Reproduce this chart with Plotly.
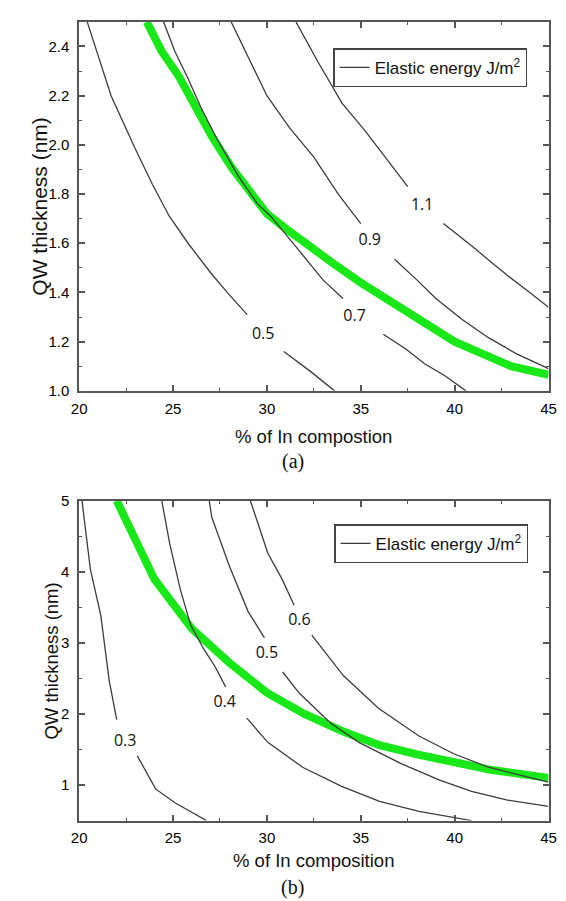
import plotly.graph_objects as go

# ---------------- Panel (a) data ----------------
a_c05_x = [20.43, 21.7, 22.95, 23.9, 24.8, 25.8, 27.0, 28.0, 28.95, None, 30.9, 32.3, 33.6]
a_c05_y = [2.5, 2.2, 1.99, 1.84, 1.71, 1.6, 1.48, 1.39, 1.31, None, 1.16, 1.08, 1.0]
a_c07_x = [24.5, 25.1, 25.8, 26.5, 27.3, 28.5, 29.5, 30.2, 31.5, 33.0, 34.05, None, 36.2, 37.4, 38.4, 39.5, 40.6]
a_c07_y = [2.5, 2.38, 2.27, 2.15, 2.03, 1.87, 1.76, 1.71, 1.59, 1.45, 1.375, None, 1.23, 1.17, 1.11, 1.06, 1.0]
a_c09_x = [28.1, 29.0, 30.0, 31.2, 32.5, 33.8, 35.0, None, 36.8, 38.0, 39.0, 40.4, 41.8, 43.3, 45.0]
a_c09_y = [2.5, 2.36, 2.2, 2.07, 1.95, 1.8, 1.68, None, 1.535, 1.45, 1.375, 1.29, 1.216, 1.15, 1.09]
a_c11_x = [31.55, 32.7, 34.0, 35.2, 36.2, 37.5, None, 39.4, 40.9, 42.0, 42.8, 44.0, 45.0]
a_c11_y = [2.5, 2.34, 2.17, 2.06, 1.96, 1.83, None, 1.68, 1.59, 1.52, 1.47, 1.40, 1.34]
a_green_x = [23.6, 24.4, 25.3, 26.2, 27.1, 28.1, 29.2, 30.0, 31.0, 32.0, 33.5, 35.0, 36.5, 38.4, 40.0, 41.5, 43.0, 45.0]
a_green_y = [2.5, 2.38, 2.28, 2.15, 2.03, 1.91, 1.80, 1.72, 1.66, 1.60, 1.52, 1.44, 1.37, 1.28, 1.20, 1.15, 1.10, 1.065]
a_label_text = ["0.5", "0.7", "0.9", "1.1"]
a_label_x = [29.8, 34.67, 35.48, 38.27]
a_label_y = [1.227, 1.30, 1.61, 1.75]

# ---------------- Panel (b) data ----------------
b_c03_x = [20.15, 20.6, 21.15, 21.6, 22.0, None, 23.1, 24.07, 25.1, 26.78]
b_c03_y = [5.0, 4.03, 3.39, 2.47, 1.92, None, 1.41, 0.945, 0.75, 0.50]
b_c04_x = [24.4, 24.82, 25.38, 25.94, 26.6, 27.25, 27.8, None, 28.93, 30.05, 31.9, 33.98, 36.0, 38.1, 40.9]
b_c04_y = [5.0, 4.4, 3.76, 3.25, 2.93, 2.66, 2.38, None, 1.94, 1.6, 1.25, 0.98, 0.77, 0.63, 0.50]
b_c05_x = [26.93, 27.06, 28.0, 29.0, 29.87, None, 30.84, 31.73, 33.4, 34.9, 37.15, 39.2, 40.9, 42.76, 45.0]
b_c05_y = [5.0, 4.77, 4.08, 3.44, 3.07, None, 2.59, 2.29, 1.87, 1.6, 1.30, 1.07, 0.91, 0.79, 0.70]
b_c06_x = [29.12, 30.05, 30.8, 31.45, None, 32.39, 34.07, 35.94, 38.1, 39.95, 41.8, 45.0]
b_c06_y = [5.0, 4.26, 3.9, 3.53, None, 3.11, 2.54, 2.08, 1.69, 1.44, 1.25, 1.04]
b_green_x = [22.0, 24.0, 26.0, 28.0, 30.0, 32.0, 34.0, 36.0, 38.0, 40.0, 42.0, 45.0]
b_green_y = [5.0, 3.9, 3.2, 2.72, 2.3, 2.0, 1.76, 1.56, 1.43, 1.32, 1.21, 1.10]
b_label_text = ["0.3", "0.4", "0.5", "0.6"]
b_label_x = [22.45, 27.75, 30.0, 31.73]
b_label_y = [1.607, 2.15, 2.84, 3.31]

legend_name = "Elastic energy J/m<sup>2</sup>"

W, H = 566, 901
SANS = "Liberation Sans, Arial, sans-serif"
LINE_COL = "#3c3c3c"
GREEN = "rgb(24,232,24)"
AX_COL = "#555555"

fig = go.Figure()

# green curves (drawn first)
fig.add_trace(go.Scatter(x=a_green_x, y=a_green_y, mode="lines", line=dict(color=GREEN, width=8),
                         showlegend=False, xaxis="x", yaxis="y"))
fig.add_trace(go.Scatter(x=b_green_x, y=b_green_y, mode="lines", line=dict(color=GREEN, width=8),
                         showlegend=False, xaxis="x2", yaxis="y2"))

a_curves = [(a_c05_x, a_c05_y), (a_c07_x, a_c07_y), (a_c09_x, a_c09_y), (a_c11_x, a_c11_y)]
for i, (cx, cy) in enumerate(a_curves):
    fig.add_trace(go.Scatter(x=cx, y=cy, mode="lines", line=dict(color=LINE_COL, width=1.3),
                             name=legend_name, showlegend=(i == 0), legend="legend",
                             xaxis="x", yaxis="y"))
b_curves = [(b_c03_x, b_c03_y), (b_c04_x, b_c04_y), (b_c05_x, b_c05_y), (b_c06_x, b_c06_y)]
for i, (cx, cy) in enumerate(b_curves):
    fig.add_trace(go.Scatter(x=cx, y=cy, mode="lines", line=dict(color=LINE_COL, width=1.3),
                             name=legend_name, showlegend=(i == 0), legend="legend2",
                             xaxis="x2", yaxis="y2"))

LABEL_FONT = dict(family="Open Sans, Noto Sans, sans-serif", size=16, color="#111111")
fig.add_trace(go.Scatter(x=a_label_x, y=a_label_y, text=a_label_text, mode="text",
                         textfont=LABEL_FONT, showlegend=False, xaxis="x", yaxis="y"))
fig.add_trace(go.Scatter(x=b_label_x, y=b_label_y, text=b_label_text, mode="text",
                         textfont=LABEL_FONT, showlegend=False, xaxis="x2", yaxis="y2"))

def px_x(p):
    return p / W

def px_y(p):
    return 1 - p / H

axis_common = dict(showline=True, linecolor=AX_COL, linewidth=1.8, mirror="ticks",
                   ticks="inside", ticklen=6, tickwidth=1.5, tickcolor=AX_COL,
                   showgrid=False, zeroline=False,
                   tickfont=dict(family=SANS, size=15, color="#000000"))

fig.update_layout(
    width=W, height=H,
    margin=dict(l=0, r=0, t=0, b=0),
    paper_bgcolor="white", plot_bgcolor="white",
    xaxis=dict(domain=[px_x(65), px_x(548)], range=[20, 45], dtick=5, tick0=20,
               minor=dict(ticks="inside", ticklen=3, dtick=2.5, tickcolor=AX_COL, tickwidth=1.2),
               anchor="y", ticklabelstandoff=3, **axis_common),
    yaxis=dict(domain=[px_y(381), px_y(5)], range=[1.0, 2.5], dtick=0.2, tick0=1.0,
               tickformat=".1f",
               minor=dict(ticks="inside", ticklen=3, dtick=0.1, tickcolor=AX_COL, tickwidth=1.2),
               anchor="x", ticklabelstandoff=5, **axis_common),
    xaxis2=dict(domain=[px_x(65), px_x(548)], range=[20, 45], dtick=5, tick0=20,
                minor=dict(ticks="inside", ticklen=3, dtick=2.5, tickcolor=AX_COL, tickwidth=1.2),
                anchor="y2", ticklabelstandoff=3, **axis_common),
    yaxis2=dict(domain=[px_y(819), px_y(493)], range=[0.5, 5], dtick=1, tick0=0,
                minor=dict(ticks="inside", ticklen=3, dtick=0.5, tickcolor=AX_COL, tickwidth=1.2),
                anchor="x2", ticklabelstandoff=5, **axis_common),
    legend=dict(x=px_x(526), y=px_y(32), xanchor="right", yanchor="top",
                bgcolor="white", bordercolor="#444444", borderwidth=1.5,
                font=dict(family=SANS, size=17, color="#111111")),
    legend2=dict(x=px_x(527), y=px_y(517), xanchor="right", yanchor="top",
                 bgcolor="white", bordercolor="#444444", borderwidth=1.5,
                 font=dict(family=SANS, size=17, color="#111111")),
    showlegend=True,
)

annots = [
    dict(text="% of In compostion", x=px_x(306), y=px_y(428), size=18.5, angle=0, fam=SANS),
    dict(text="(a)", x=px_x(285), y=px_y(453), size=20, angle=0, fam="Liberation Serif, Times New Roman, serif"),
    dict(text="QW thickness (nm)", x=px_x(24), y=px_y(193), size=21, angle=-90, fam=SANS),
    dict(text="% of In composition", x=px_x(306), y=px_y(860), size=18.5, angle=0, fam=SANS),
    dict(text="(b)", x=px_x(285), y=px_y(887), size=20, angle=0, fam="Liberation Serif, Times New Roman, serif"),
    dict(text="QW thickness (nm)", x=px_x(37), y=px_y(656), size=18.5, angle=-90, fam=SANS),
]
for a in annots:
    fig.add_annotation(text=a["text"], x=a["x"], y=a["y"], xref="paper", yref="paper",
                       xanchor="center", yanchor="middle", showarrow=False, textangle=a["angle"],
                       font=dict(family=a["fam"], size=a["size"], color="#111111"))

fig.write_html("out.html")
